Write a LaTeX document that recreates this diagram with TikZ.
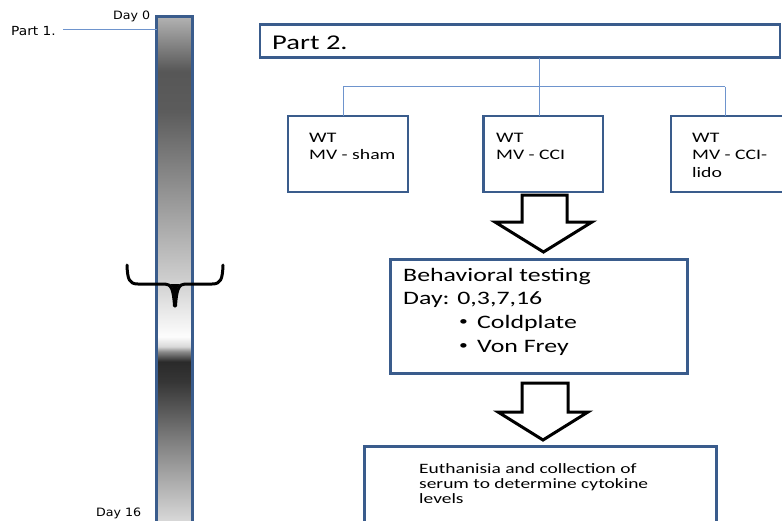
\documentclass[tikz,border=0pt]{standalone}
\usepackage{fontspec}
\setmainfont{Carlito}[FakeStretch=1.36]
\newfontfamily\smallf{DejaVu Sans}[FakeStretch=1.1]
\definecolor{boxblue}{RGB}{58,92,140}
\definecolor{linkblue}{RGB}{110,148,205}
\pgfdeclareverticalshading{barshade}{100bp}{%
 rgb(0bp)=(.86,.86,.86); rgb(25bp)=(.86,.86,.86);
 rgb(25.97bp)=(.85,.85,.85); rgb(33.74bp)=(.50,.50,.50);
 rgb(39.56bp)=(.21,.21,.21); rgb(41.5bp)=(.165,.165,.165);
 rgb(42.48bp)=(.55,.55,.55); rgb(42.96bp)=(.85,.85,.85);
 rgb(43.93bp)=(.99,.99,.99); rgb(45.87bp)=(.93,.93,.93);
 rgb(49.76bp)=(.80,.80,.80); rgb(57.04bp)=(.60,.60,.60);
 rgb(65.78bp)=(.36,.36,.36); rgb(69.66bp)=(.34,.34,.34);
 rgb(75bp)=(.70,.70,.70); rgb(100bp)=(.70,.70,.70)}
\begin{document}
\begin{tikzpicture}[x=1pt,y=-1pt,
  box/.style={draw=boxblue, line width=2.8pt, fill=white, inner sep=0pt, outer sep=0pt, anchor=north west},
  link/.style={draw=linkblue, line width=1pt},
  lbl/.style={inner sep=0pt, anchor=base west, align=left},
  smallfont/.style={font=\smallf\fontsize{11.5}{14}\selectfont},
  wtfont/.style={font=\fontsize{14.5}{17.5}\selectfont},
  behfont/.style={font=\fontsize{19}{23.5}\selectfont},
  bulfont/.style={font=\fontsize{13}{16}\selectfont},
  eufont/.style={font=\fontsize{14.3}{15}\selectfont},
  blockarrow/.style={draw=black, line width=3pt, fill=white, line join=miter}]
\clip (0,0) rectangle (782,520);
\fill[white] (0,0) rectangle (782,520);

% timeline bar
\node[draw=boxblue, line width=2.5pt, shade, shading=barshade, inner sep=0pt, outer sep=0pt,
      anchor=north west, minimum width=36pt, minimum height=515pt] (bar) at (156.5,16.5) {};
\node[lbl, font=\smallf\fontsize{12.5}{15}\selectfont] (part1) at (11,35) {Part 1.};
\node[lbl, smallfont] (day0) at (113,19) {Day 0};
\node[lbl, smallfont] (day16) at (96,516) {Day 16};
\coordinate (p1) at (63,29.5);
\draw[link] (p1) -- (p1 -| bar.west);

% brace
\draw[line width=3pt, line cap=round, line join=round]
  (127,265) .. controls (127.5,279) and (129,284) .. (138,284) -- (165,284)
  .. controls (171,284) and (173.5,289) .. (174.5,306);
\draw[line width=3pt, line cap=round, line join=round]
  (223,265) .. controls (222.5,279) and (221,284) .. (212,284) -- (185,284)
  .. controls (179,284) and (176.5,289) .. (175.5,306);
\fill (170,284) .. controls (173,286) and (174,292) .. (174.5,306) -- (175.5,306)
  .. controls (176,292) and (177,286) .. (180,284) -- cycle;

% Part 2 tree
\node[box, minimum width=520pt, minimum height=33pt] (part2) at (260,24.5) {};
\node[lbl, font=\fontsize{21}{25}\selectfont] (p2t) at (272,49) {Part 2.};
\node[box, minimum width=120pt, minimum height=76pt] (wt1) at (288,116) {};
\node[box, minimum width=119.5pt, minimum height=76pt] (wt2) at (483.5,116) {};
\node[box, minimum width=130pt, minimum height=76pt] (wt3) at (671,116) {};
\node[lbl, wtfont] (t1) at (309,159.5) {WT\\MV - sham};
\node[lbl, wtfont] (t2) at (496,159.5) {WT\\MV - CCI};
\node[lbl, wtfont] (t3) at (692,177) {WT\\MV - CCI-\\lido};
\coordinate (j1) at (343,86.5);
\coordinate (j2) at (539,86.5);
\coordinate (j3) at (725,86.5);
\draw[link] (j2 |- part2.south) -- (j2);
\draw[link] (j1) -- (j3);
\draw[link] (j1) -- (j1 |- wt1.north);
\draw[link] (j2) -- (j2 |- wt2.north);
\draw[link] (j3) -- (j3 |- wt3.north);

% block arrows
\draw[blockarrow] (522,195) -- (567,195) -- (567,222) -- (592,222) -- (543.5,252)
  -- (495,222) -- (522,222) -- cycle;
\draw[blockarrow] (522,383) -- (568,383) -- (568,412) -- (588,412) -- (543,440)
  -- (498,412) -- (522,412) -- cycle;

% behavioral testing
\node[box, minimum width=297pt, minimum height=114pt] (beh) at (390.5,259.5) {};
\node[lbl, behfont] (bt) at (403,304.5) {Behavioral testing\\Day: 0,3,7,16};
\node[lbl, bulfont] (bu1) at (459,325) {•};
\node[lbl, behfont] (cp) at (477,328) {Coldplate};
\node[lbl, bulfont] (bu2) at (459,349) {•};
\node[lbl, behfont] (vf) at (477,352) {Von Frey};

% euthanisia
\node[box, minimum width=352pt, minimum height=100pt] (eu) at (364.5,446.5) {};
\node[lbl, eufont] (et) at (419,503) {Euthanisia and collection of\\serum to determine cytokine\\levels};
\end{tikzpicture}
\end{document}
